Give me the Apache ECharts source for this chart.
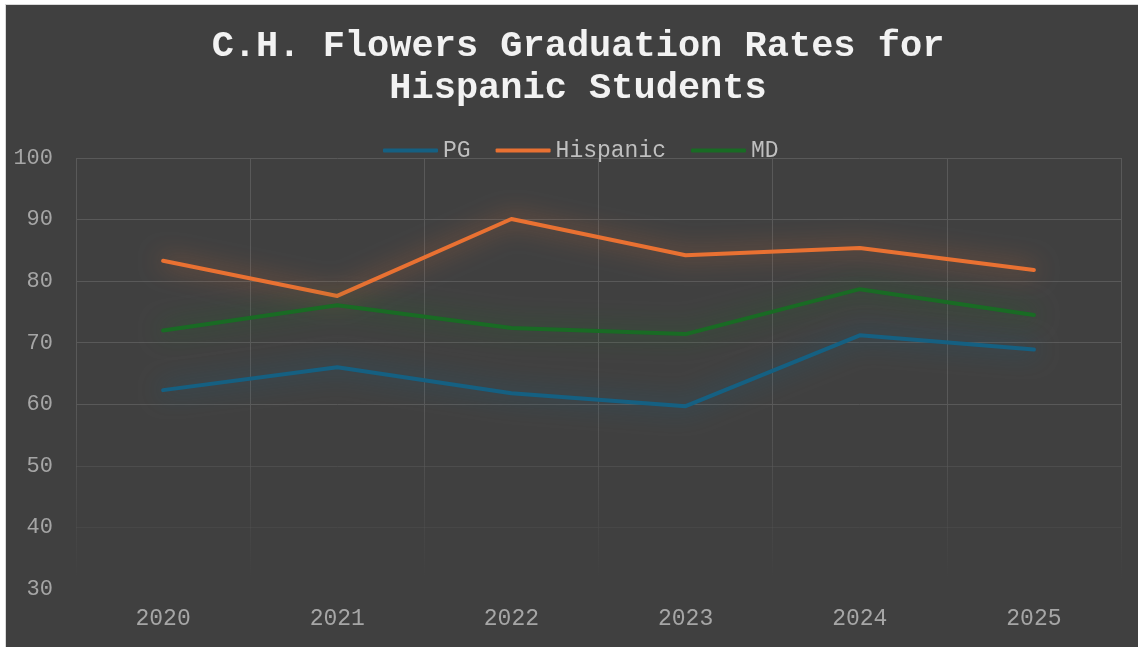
<!DOCTYPE html>
<html>
<head>
<meta charset="utf-8">
<script src="https://cdn.jsdelivr.net/npm/echarts@6/dist/echarts.min.js"></script>
<style>
  html, body { margin: 0; padding: 0; background: #ffffff; }
  #chart {
    position: absolute;
    left: 5px;
    top: 4px;
    width: 1133px;
    height: 643px;
    border-left: 1px solid #d9d9d9;
    border-top: 1px solid #d9d9d9;
  }
</style>
</head>
<body>
<div id="chart"></div>
<script>
// data
const years = ['2020', '2021', '2022', '2023', '2024', '2025'];
const pgRates = [62.3, 66.0, 61.8, 59.7, 71.2, 68.9];
const hispanicRates = [83.3, 77.6, 90.1, 84.2, 85.4, 81.8];
const mdRates = [72.0, 76.1, 72.4, 71.4, 78.7, 74.5];
const seriesNames = ['PG', 'Hispanic', 'MD'];
const titleText = 'C.H. Flowers Graduation Rates for\nHispanic Students';

const colors = ['#156082', '#E97132', '#196B24'];
const glow = ['rgba(21,96,130,0.9)', 'rgba(233,113,50,0.75)', 'rgba(25,107,36,0.9)'];
const mono = '"Liberation Mono", "Courier New", monospace';

const chart = echarts.init(document.getElementById('chart'));

function makeLine(name, data, i) {
  return {
    name: name,
    type: 'line',
    data: data,
    symbol: 'none',
    color: colors[i],
    lineStyle: {
      width: 4,
      color: colors[i],
      cap: 'round',
      join: 'round',
      shadowBlur: 24,
      shadowColor: glow[i]
    },
    emphasis: { disabled: true }
  };
}

const option = {
  backgroundColor: '#404040',
  animation: false,
  title: {
    text: titleText,
    left: 567,
    top: 16,
    textAlign: 'center',
    textStyle: {
      fontFamily: mono,
      fontWeight: 'bold',
      fontSize: 37,
      lineHeight: 42,
      color: '#f2f2f2'
    }
  },
  legend: {
    top: 129,
    left: 372,
    icon: 'roundRect',
    itemWidth: 55,
    itemHeight: 4,
    itemGap: 25,
    itemStyle: { borderWidth: 0 },
    textStyle: {
      fontFamily: mono,
      fontSize: 23,
      color: '#bfbfbf'
    },
    data: seriesNames
  },
  grid: {
    left: 70,
    right: 18,
    top: 153,
    bottom: 59
  },
  xAxis: {
    type: 'category',
    data: years,
    boundaryGap: true,
    axisLine: { show: false },
    axisTick: { show: false },
    axisLabel: {
      margin: 18,
      fontFamily: mono,
      fontSize: 23,
      color: '#a6a6a6'
    },
    splitLine: {
      show: true,
      lineStyle: {
        width: 1,
        color: new echarts.graphic.LinearGradient(0, 0, 0, 1, [
          { offset: 0, color: '#595959' },
          { offset: 0.55, color: '#595959' },
          { offset: 0.97, color: 'rgba(89,89,89,0)' },
          { offset: 1, color: 'rgba(89,89,89,0)' }
        ])
      }
    }
  },
  yAxis: {
    type: 'value',
    min: 30,
    max: 100,
    interval: 10,
    axisLine: { show: false },
    axisTick: { show: false },
    axisLabel: {
      margin: 23,
      fontFamily: mono,
      fontSize: 22,
      color: '#a6a6a6'
    },
    splitLine: {
      show: true,
      lineStyle: {
        width: 1,
        color: ['rgba(89,89,89,0)', '#474747', '#4d4d4d', '#595959',
                '#595959', '#595959', '#595959', '#595959']
      }
    }
  },
  series: [
    makeLine(seriesNames[0], pgRates, 0),
    makeLine(seriesNames[1], hispanicRates, 1),
    makeLine(seriesNames[2], mdRates, 2)
  ]
};

chart.setOption(option);
</script>
</body>
</html>
